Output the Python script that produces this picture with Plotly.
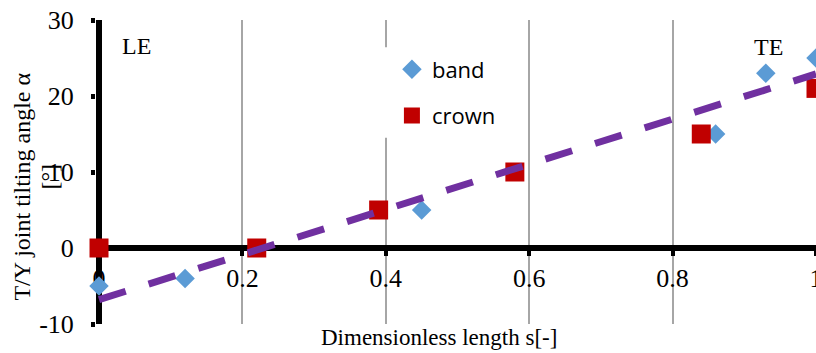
import plotly.graph_objects as go

# ---- data ----
band_x = [0.0, 0.12, 0.45, 0.86, 0.93, 1.0]
band_y = [-5, -4, 5, 15, 23, 25]
crown_x = [0.0, 0.22, 0.39, 0.58, 0.84, 1.0]
crown_y = [0, 0, 5, 10, 15, 21]
trend_x = [0.0, 1.0]
trend_y = [-6.8, 22.9]

x_ticks = [0, 0.2, 0.4, 0.6, 0.8, 1.0]
x_ticklabels = ["0", "0.2", "0.4", "0.6", "0.8", "1"]
y_ticks = [-10, 0, 10, 20, 30]
y_ticklabels = ["-10", "0", "10", "20", "30"]

x_title = "Dimensionless length s[-]"
y_title_1 = "T/Y joint tilting angle α"
y_title_2 = "[°]"
le_label = ("LE", 0.052, 26.6)
te_label = ("TE", 0.934, 26.4)

SERIF = "Liberation Serif, Times New Roman, serif"
SANS = "Open Sans, sans-serif"

fig = go.Figure()
fig.add_trace(go.Scatter(
    x=band_x, y=band_y, mode="markers", name="band",
    marker=dict(symbol="diamond", size=15, color="#5B9BD5", line=dict(width=0)),
    cliponaxis=False, legend="legend",
))
fig.add_trace(go.Scatter(
    x=crown_x, y=crown_y, mode="markers", name="crown",
    marker=dict(symbol="square", size=19, color="#C00000", line=dict(width=0)),
    cliponaxis=False, legend="legend2",
))
fig.add_trace(go.Scatter(
    x=trend_x, y=trend_y, mode="lines", showlegend=False,
    line=dict(color="#7030A0", width=7, dash="28px,24px"),
    cliponaxis=False,
))

fig.update_layout(
    width=816, height=353,
    margin=dict(l=96, r=0, t=20, b=29, autoexpand=False),
    paper_bgcolor="white", plot_bgcolor="white",
    xaxis=dict(
        range=[-0.0042, 1.0], tickvals=x_ticks, ticktext=x_ticklabels,
        showgrid=True, gridcolor="#A6A6A6", gridwidth=1.5,
        zeroline=True, zerolinecolor="black", zerolinewidth=6,
        showline=False, ticks="outside", ticklen=7, tickwidth=4, tickcolor="black",
        anchor="free", position=0.25, ticklabelstandoff=0,
        ticklabeloverflow="allow", automargin=False,
        tickfont=dict(family=SERIF, size=26, color="black"),
        layer="below traces",
    ),
    yaxis=dict(
        range=[-10, 30], tickvals=y_ticks, ticktext=y_ticklabels,
        showgrid=False, zeroline=True, zerolinecolor="black", zerolinewidth=6,
        showline=False, ticks="outside", ticklen=4, tickwidth=5, tickcolor="black",
        ticklabelstandoff=12, ticklabeloverflow="allow", automargin=False,
        tickfont=dict(family=SERIF, size=26, color="black"),
        layer="below traces",
    ),
    legend=dict(x=0.411, y=0.837, xanchor="left", yanchor="middle",
                bgcolor="rgba(0,0,0,0)", font=dict(family=SANS, size=22, color="black"),
                itemsizing="trace"),
    legend2=dict(x=0.411, y=0.685, xanchor="left", yanchor="middle",
                 bgcolor="rgba(0,0,0,0)", font=dict(family=SANS, size=22, color="black"),
                 itemsizing="trace"),
    showlegend=True,
)

# white box behind the legend hiding the gridline
fig.add_shape(type="rect", xref="x", yref="y", x0=0.392, x1=0.580, y0=14.5, y1=26.4,
              fillcolor="white", line=dict(width=0), layer="between")

annots = [
    dict(text=x_title, xref="x", yref="paper", x=0.474, y=-0.046,
         xanchor="center", yanchor="middle", showarrow=False,
         font=dict(family=SERIF, size=23, color="black")),
    dict(text=y_title_1, xref="paper", yref="paper", x=(22 - 96) / 720, y=0.452,
         xanchor="center", yanchor="middle", textangle=-90, showarrow=False,
         font=dict(family=SERIF, size=24, color="black")),
    dict(text=y_title_2, xref="paper", yref="paper", x=(50 - 96) / 720, y=0.485,
         xanchor="center", yanchor="middle", textangle=-90, showarrow=False,
         font=dict(family=SERIF, size=24, color="black")),
]
for t, xx, yy in [le_label, te_label]:
    annots.append(dict(text=t, xref="x", yref="y", x=xx, y=yy, xanchor="center",
                       yanchor="middle", showarrow=False,
                       font=dict(family=SERIF, size=24, color="black")))
fig.update_layout(annotations=annots)

fig.write_html("out.html")
